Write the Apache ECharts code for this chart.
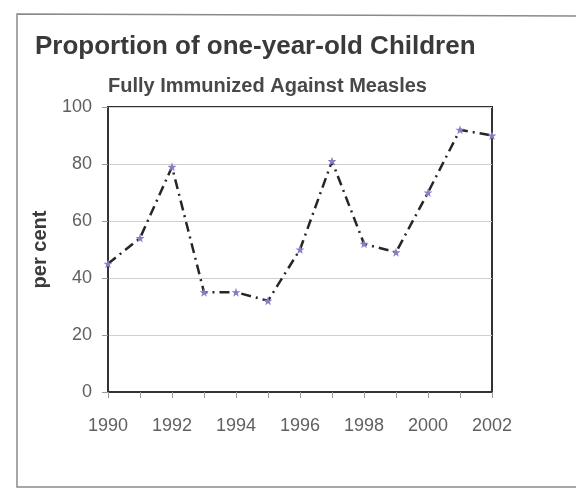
<!DOCTYPE html>
<html>
<head>
<meta charset="utf-8">
<script src="https://cdn.jsdelivr.net/npm/echarts@6/dist/echarts.min.js"></script>
<style>
html,body{margin:0;padding:0;background:#fff;}
#chart{width:576px;height:490px;}
</style>
</head>
<body>
<div id="chart"></div>
<script>
const titleText = 'Proportion of one-year-old Children';
const subtitleText = 'Fully Immunized Against Measles';
const yAxisName = 'per cent';
const years = ['1990','1991','1992','1993','1994','1995','1996','1997','1998','1999','2000','2001','2002'];
const measles = [45, 54, 79, 35, 35, 32, 50, 81, 52, 49, 70, 92, 90];
const yTicks = [0, 20, 40, 60, 80, 100];

const chart = echarts.init(document.getElementById('chart'), null, {renderer: 'canvas'});
const font = '"Liberation Sans", Arial, sans-serif';
chart.setOption({
  animation: false,
  backgroundColor: '#ffffff',
  textStyle: {fontFamily: font},
  graphic: [{
    type: 'polyline',
    silent: true,
    shape: {points: [[576, 16], [17, 14], [17, 487], [576, 487]]},
    style: {stroke: '#8a8a8a', lineWidth: 1.5, fill: null}
  }],
  title: [{
    text: titleText,
    left: 30,
    top: 29,
    textStyle: {fontFamily: font, fontSize: 26, fontWeight: 'bold', color: '#3a3a3a'}
  }, {
    text: subtitleText,
    left: 103,
    top: 71,
    textStyle: {fontFamily: font, fontSize: 20, fontWeight: 'bold', color: '#484848'}
  }],
  grid: {
    left: 108, right: 84, top: 107, bottom: 98,
    show: true, borderColor: '#333', borderWidth: 2, backgroundColor: 'transparent'
  },
  xAxis: {
    type: 'category',
    data: years,
    boundaryGap: false,
    axisLine: {show: true, lineStyle: {color: '#333', width: 2}},
    axisTick: {show: true, interval: 0, length: 6, lineStyle: {color: '#999'}},
    axisLabel: {interval: 1, fontSize: 18, color: '#606060', margin: 25, fontFamily: font},
    splitLine: {show: false}
  },
  yAxis: {
    type: 'value',
    min: yTicks[0],
    max: yTicks[yTicks.length - 1],
    interval: 20,
    name: yAxisName,
    nameLocation: 'middle',
    nameRotate: 90,
    nameGap: 58,
    nameTextStyle: {fontFamily: font, fontSize: 20, fontWeight: 'bold', color: '#3a3a3a'},
    axisLine: {show: true, lineStyle: {color: '#333', width: 2}},
    axisTick: {show: true, length: 6, lineStyle: {color: '#999'}},
    axisLabel: {fontSize: 18, color: '#606060', margin: 16, fontFamily: font},
    splitLine: {show: true, lineStyle: {color: '#d0d0d0', width: 1}}
  },
  series: [{
    type: 'line',
    data: measles,
    symbol: 'path://M0,-10 L2.4,-3.1 9.5,-3.1 3.8,1.2 5.9,8.1 0,4 -5.9,8.1 -3.8,1.2 -9.5,-3.1 -2.4,-3.1Z',
    symbolSize: 9,
    itemStyle: {color: '#8580c8'},
    lineStyle: {color: '#262626', width: 2.5, type: [10, 5, 2, 5]},
    z: 3
  }]
});
</script>
</body>
</html>
